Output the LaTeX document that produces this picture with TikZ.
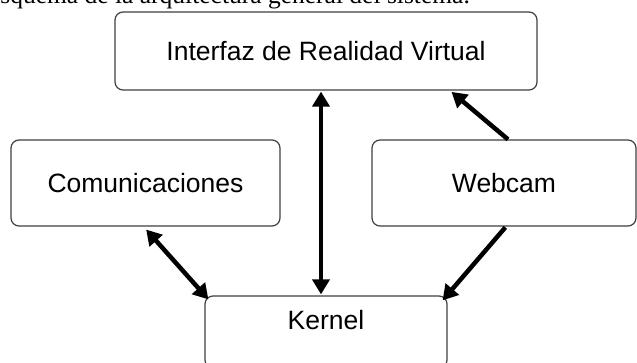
\documentclass[tikz,border=0pt]{standalone}
\usepackage{fontspec}
\setmainfont{Liberation Serif}
\newfontfamily\boxfont{Liberation Sans}
\usetikzlibrary{arrows.meta}

\begin{document}
\begin{tikzpicture}[x=1pt,y=-1pt,
		blockbox/.style={draw=black!75,line width=1.2pt,rounded corners=8pt,fill=white,inner sep=0pt,font=\boxfont\fontsize{26.5}{30}\selectfont},
		flowarrow/.style={line width=4.5pt,-{Triangle[length=15pt,width=17pt]}},
		bothwayarrow/.style={line width=4.5pt,{Triangle[length=15pt,width=17pt]}-{Triangle[length=15pt,width=17pt]}}]
		\useasboundingbox (0,0) rectangle (637,363);
		%caption
		\node[anchor=base east,inner sep=0pt,font=\fontsize{25.5}{30}\selectfont] (caption) at (470,4) {Esquema de la arquitectura general del sistema.};
		%blocks
		\node[blockbox,minimum width=422pt,minimum height=78pt] (interfaz) at (326,51) {Interfaz de Realidad Virtual};
		\node[blockbox,minimum width=269pt,minimum height=86pt] (comunic) at (145.5,183) {Comunicaciones};
		\node[blockbox,minimum width=264pt,minimum height=86pt] (webcam) at (504,183) {Webcam};
		\node[blockbox,minimum width=242pt,minimum height=72pt,text depth=24pt] (kernel) at (326,332) {Kernel};
		%arrows
		\draw[bothwayarrow,shorten <=1pt,shorten >=1pt] ([xshift=-5pt]interfaz.south) -- ([xshift=-5pt]kernel.north);
		\draw[flowarrow,shorten >=2pt] ([xshift=4pt]webcam.north) -- ([xshift=124pt]interfaz.south);
		\draw[flowarrow,shorten <=1pt] ([xshift=2pt]webcam.south) -- ([shift={(-5,5)}]kernel.north east);
		\draw[bothwayarrow,shorten <=4pt] ([xshift=-2pt]comunic.south) -- ([shift={(4,4)}]kernel.north west);
	\end{tikzpicture}
\end{document}
